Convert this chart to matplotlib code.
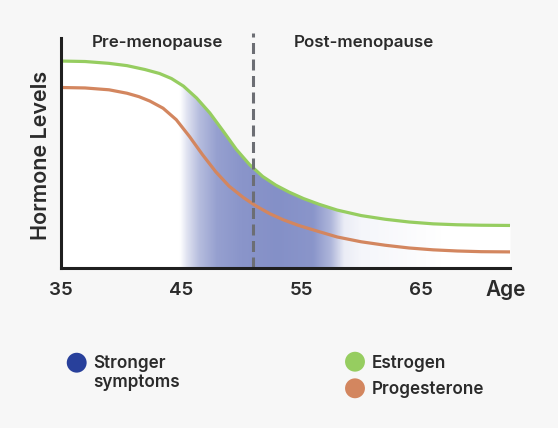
import matplotlib
matplotlib.use("Agg")
import matplotlib.pyplot as plt
import numpy as np
from matplotlib.colors import LinearSegmentedColormap

# data
est_age = [35, 37, 39, 40.5, 42, 43.2, 44.2, 45.2, 46.3, 47.4, 48.5, 49.6,
           50.7, 51.8, 52.9, 54.0, 55.2, 56.5, 58, 60, 62, 64, 66, 68, 70, 72.4]
estrogen = [90.0, 89.8, 89.0, 88.0, 86.3, 84.6, 82.4, 79.1, 73.9, 67.4, 59.6,
            51.6, 45.0, 39.8, 36.0, 33.0, 30.2, 27.7, 25.2, 22.8, 21.2, 20.0,
            19.2, 18.8, 18.6, 18.5]
prog_age = [35, 37, 39, 40.5, 41.5, 42.4, 43.5, 44.6, 45.7, 46.8, 47.9, 49.0,
            50.2, 51.3, 52.4, 53.5, 54.8, 56.5, 58, 60, 62, 64, 66, 68, 70, 72.4]
progesterone = [78.5, 78.3, 77.5, 76.0, 74.5, 72.6, 69.5, 64.5, 57.2, 49.2,
                41.8, 35.6, 30.6, 26.8, 23.6, 21.0, 18.5, 15.8, 13.5, 11.4,
                9.9, 8.7, 7.9, 7.4, 7.1, 7.0]
menopause_age = 51
tick_ages = [35, 45, 55, 65]

# symptom band intensity along age
band_age = [44.9, 45.5, 46.5, 48, 50, 53, 56, 57.5, 58.6, 60, 64, 67]
band_alpha = [0.0, 0.22, 0.5, 0.72, 0.8, 0.84, 0.8, 0.55, 0.14, 0.07, 0.03, 0.0]

bg = "#f7f7f7"
green = "#96cd60"
orange = "#d3865f"
blue_band = "#6d7bbd"
blue_dot = "#28409b"
txt = "#2b2b2b"

plt.rcParams["font.family"] = ["Inter", "DejaVu Sans"]

fig = plt.figure(figsize=(5.58, 4.28), dpi=100, facecolor=bg)
ax = fig.add_axes([61 / 558, 1 - 268 / 428, 449 / 558, 235 / 428])
ax.set_facecolor("none")
ax.set_xlim(35, 72.4)
ax.set_ylim(0, 102.2)

# white area below estrogen curve
ax.fill_between(est_age, estrogen, 0, color="white", lw=0, zorder=1)

# gradient band clipped to area under estrogen curve
xs = np.linspace(35, 72.4, 600)
alpha = np.interp(xs, band_age, band_alpha)
cmap = LinearSegmentedColormap.from_list("band", ["white", blue_band])
img = ax.imshow(alpha[np.newaxis, :], extent=[35, 72.4, 0, 102.2], aspect="auto",
                cmap=cmap, vmin=0, vmax=1, zorder=2, interpolation="bilinear")
clip = ax.fill_between(est_age, estrogen, 0, color="none", lw=0)
img.set_clip_path(clip.get_paths()[0], transform=ax.transData)

ax.plot(est_age, estrogen, color=green, lw=2.3, zorder=4, solid_joinstyle="round")
ax.plot(prog_age, progesterone, color=orange, lw=2.3, zorder=4,
        solid_joinstyle="round")
ax.plot([menopause_age, menopause_age], [0, 102.2], color="#6c6e74", lw=2.2,
        ls=(0, (3.6, 1.8)), zorder=5, clip_on=False)

for s in ["top", "right"]:
    ax.spines[s].set_visible(False)
for s in ["left", "bottom"]:
    ax.spines[s].set_linewidth(2.2)
    ax.spines[s].set_color("#1f1f1f")
    ax.spines[s].set_zorder(6)
ax.spines["left"].set_bounds(0, 100)
ax.set_yticks([])
ax.set_xticks(tick_ages)
ax.set_xticklabels([str(a) for a in tick_ages])
ax.tick_params(axis="x", length=0, pad=10, labelsize=13.5, labelcolor=txt)
for lab in ax.get_xticklabels():
    lab.set_fontweight("semibold")

fig.text(506 / 558, 1 - 290 / 428, "Age", fontsize=15, fontweight="semibold",
         color=txt, ha="center", va="center")
fig.text(41 / 558, 1 - 155 / 428, "Hormone Levels", fontsize=15.5,
         fontweight="semibold", color=txt, ha="center", va="center", rotation=90)
fig.text(157 / 558, 1 - 42 / 428, "Pre-menopause", fontsize=12.2,
         fontweight="semibold", color=txt, ha="center", va="center")
fig.text(364 / 558, 1 - 42 / 428, "Post-menopause", fontsize=12.2,
         fontweight="semibold", color=txt, ha="center", va="center")

# legend
dot_x = [76.7, 355, 355]
dot_y = [362.7, 361.7, 388.3]
dot_c = [blue_dot, green, orange]
ax.scatter([x / 558 for x in dot_x], [1 - y / 428 for y in dot_y], s=205,
           c=dot_c, transform=fig.transFigure, clip_on=False, lw=0, zorder=10)
fig.text(93 / 558, 1 - 373 / 428, "Stronger\nsymptoms", fontsize=12.3,
         fontweight="semibold", color=txt, ha="left", va="center",
         linespacing=1.2)
fig.text(371.7 / 558, 1 - 363 / 428, "Estrogen", fontsize=12.3,
         fontweight="semibold", color=txt, ha="left", va="center")
fig.text(371.7 / 558, 1 - 389 / 428, "Progesterone", fontsize=12.3,
         fontweight="semibold", color=txt, ha="left", va="center")

fig.savefig("out.png", dpi=100, facecolor=bg)
